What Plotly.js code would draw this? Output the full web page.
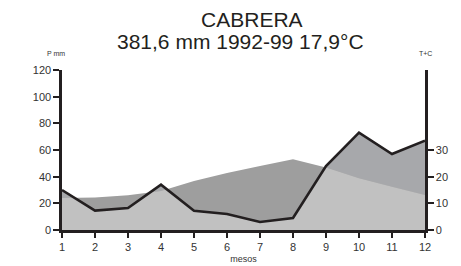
<!DOCTYPE html>
<html>
<head>
<meta charset="utf-8">
<script src="https://cdn.plot.ly/plotly-3.0.1.min.js"></script>
<style>html,body{margin:0;padding:0;background:#fff}#chart{width:461px;height:266px}</style>
</head>
<body>
<div id="chart"></div>
<script>
// Data
const months = [1,2,3,4,5,6,7,8,9,10,11,12];
const precip = [30, 14.5, 16.5, 34, 14.5, 12, 6, 9, 48, 73, 57, 67]; // P mm
const temp = [12, 12.2, 13, 14.6, 18.4, 21.4, 24, 26.5, 23.4, 19.4, 16.2, 13.1]; // °C
const titleLine1 = "CABRERA";
const titleLine2 = "381,6 mm 1992-99 17,9°C";
const rightTicks = [0, 10, 20, 30];

const ink = "#231f20";
const font = "Liberation Sans, Arial, sans-serif";

// temperature on the precipitation scale (10 °C = 20 mm)
const temp2 = temp.map(t => t * 2);

// lower envelope of the two curves, with crossing points
const minX = [], minY = [];
for (let i = 0; i < months.length; i++) {
  minX.push(months[i]);
  minY.push(Math.min(precip[i], temp2[i]));
  if (i < months.length - 1) {
    const d0 = precip[i] - temp2[i], d1 = precip[i+1] - temp2[i+1];
    if (d0 * d1 < 0) {
      const f = d0 / (d0 - d1);
      minX.push(months[i] + f * (months[i+1] - months[i]));
      minY.push(precip[i] + f * (precip[i+1] - precip[i]));
    }
  }
}

const traces = [
  {x: months, y: precip, type: "scatter", mode: "lines", fill: "tozeroy",
   fillcolor: "#a7a8ab", line: {width: 0, color: "rgba(0,0,0,0)"}, hoverinfo: "skip"},
  {x: months, y: temp2, type: "scatter", mode: "lines", fill: "tozeroy",
   fillcolor: "#9e9e9e", line: {width: 0, color: "rgba(0,0,0,0)"}, hoverinfo: "skip"},
  {x: minX, y: minY, type: "scatter", mode: "lines", fill: "tozeroy",
   fillcolor: "#c1c1c1", line: {width: 0, color: "rgba(0,0,0,0)"}, hoverinfo: "skip"},
  {x: months, y: precip, type: "scatter", mode: "lines",
   line: {width: 2.6, color: ink}},
  {x: [1], y: [0], yaxis: "y2", type: "scatter", mode: "markers",
   marker: {opacity: 0}, hoverinfo: "skip"}
];

const layout = {
  width: 461, height: 266,
  margin: {l: 62, r: 36, t: 70, b: 36},
  paper_bgcolor: "#fff", plot_bgcolor: "#fff",
  showlegend: false,
  font: {family: font, color: ink, size: 11},
  title: {text: titleLine1, font: {family: font, size: 21, color: ink},
          x: 0.523, xanchor: "center", xref: "paper", y: 1 - 20/266, yanchor: "middle", yref: "container"},
  xaxis: {range: [1, 12], tickvals: months, ticks: "outside", ticklen: 5, tickwidth: 2,
          tickcolor: ink, showline: true, linewidth: 2.6, linecolor: ink, showgrid: false,
          zeroline: false, tickfont: {size: 11, color: "#333"},
          title: {text: "mesos", font: {size: 9, color: "#333"}, standoff: 4}},
  yaxis: {range: [0, 120], tickvals: [0,20,40,60,80,100,120], ticks: "outside", ticklen: 6,
          tickwidth: 2, tickcolor: ink, showline: true, linewidth: 2.6, linecolor: ink,
          showgrid: false, zeroline: false, tickfont: {size: 11, color: "#333"}},
  yaxis2: {range: [0, 60], overlaying: "y", side: "right", tickvals: rightTicks,
           ticks: "outside", ticklen: 6, tickwidth: 2, tickcolor: ink, showline: true,
           linewidth: 2.6, linecolor: ink, showgrid: false, zeroline: false,
           tickfont: {size: 11, color: "#333"}},
  annotations: [
    {text: titleLine2, xref: "paper", yref: "paper", x: 0.493, y: (230-41)/160,
     xanchor: "center", yanchor: "middle", showarrow: false, font: {size: 21, color: ink}},
    {text: "P mm", xref: "paper", yref: "paper", x: (56-62)/363, y: (230-53)/160,
     xanchor: "center", yanchor: "middle", showarrow: false, font: {size: 7, color: "#333"}},
    {text: "T+C", xref: "paper", yref: "paper", x: 1, y: (230-54)/160,
     xanchor: "center", yanchor: "middle", showarrow: false, font: {size: 7, color: "#333"}}
  ]
};

Plotly.newPlot("chart", traces, layout, {displayModeBar: false, staticPlot: true});
</script>
</body>
</html>
